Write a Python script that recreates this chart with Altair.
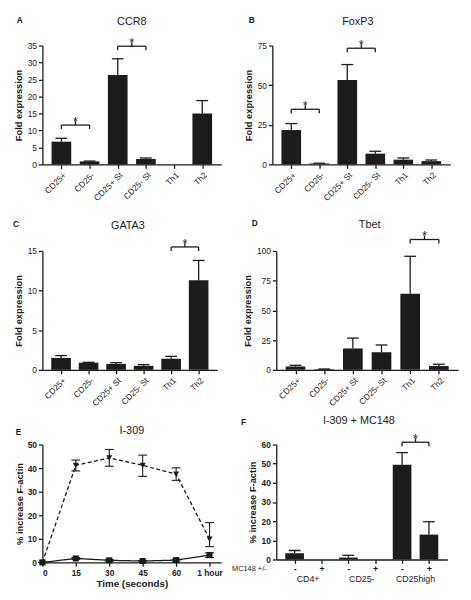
import altair as alt
import pandas as pd

FONT = "Liberation Sans"
INK = "#1a1a1a"
BAR = "#1c1c1c"

# ---------------- data ----------------
cats = ["CD25+", "CD25-", "CD25+ St", "CD25- St", "Th1", "Th2"]

ccr8_mean = [6.7, 0.9, 26.3, 1.6, 0.0, 15.0]
ccr8_err = [1.0, 0.1, 4.8, 0.3, 0.0, 3.8]
ccr8_brackets = [(0, 1, 11.6), (2, 3, 34.8)]

foxp3_mean = [21.7, 0.6, 53.3, 6.8, 3.0, 2.1]
foxp3_err = [4.1, 0.2, 9.7, 1.5, 1.1, 0.7]
foxp3_brackets = [(0, 1, 34.8), (2, 3, 73.3)]

gata3_mean = [1.5, 0.9, 0.75, 0.5, 1.4, 11.3]
gata3_err = [0.3, 0.05, 0.15, 0.15, 0.3, 2.5]
gata3_brackets = [(4, 5, 15.5)]

tbet_mean = [2.8, 0.5, 18.0, 14.8, 64.0, 3.2]
tbet_err = [1.0, 0.2, 8.7, 6.1, 31.5, 1.5]
tbet_brackets = [(4, 5, 109.6)]

time_labels = ["0", "15", "30", "45", "60", "1 hour"]
tri_mean = [0.0, 41.2, 44.3, 41.2, 37.4, 9.9]
tri_lo = [0.0, 38.8, 40.8, 36.5, 34.8, 6.7]
tri_hi = [0.0, 43.4, 47.9, 45.5, 40.1, 16.9]
sq_mean = [0.0, 1.7, 0.9, 0.6, 1.0, 3.1]
sq_lo = [0.0, 1.3, 0.5, 0.3, 0.6, 2.1]
sq_hi = [0.0, 2.1, 1.3, 0.9, 1.4, 4.1]

mc148_signs = ["-", "+", "-", "+", "-", "+"]
mc148_groups = ["CD4+", "CD25-", "CD25high"]
mc148_mean = [3.2, 0.0, 1.0, 0.0, 49.5, 13.0]
mc148_err = [1.5, 0.0, 1.2, 0.0, 6.3, 6.7]
mc148_brackets = [(4, 5, 61.2)]


def label_expr(labels):
    arr = ",".join("'" + l + "'" for l in labels)
    return "[" + arr + "][datum.value]"


ONE = pd.DataFrame({"k": [0]})


def text_at(txt, x, y, size, weight="normal", align="left", baseline="alphabetic"):
    return alt.Chart(ONE).mark_text(
        text=txt, font=FONT, fontSize=size, fontWeight=weight, align=align,
        baseline=baseline, color=INK
    ).encode(x=alt.value(x), y=alt.value(y))


def bracket_layers(brackets, X, Y):
    bdf = pd.DataFrame({
        "a": [b[0] for b in brackets],
        "b": [b[1] for b in brackets],
        "level": [b[2] for b in brackets],
    })
    bdf["m"] = (bdf["a"] + bdf["b"]) / 2.0
    ends = pd.DataFrame({
        "xe": [b[0] for b in brackets] + [b[1] for b in brackets],
        "level": [b[2] for b in brackets] * 2,
    })
    hor = alt.Chart(bdf).mark_rule(color=INK, strokeWidth=1.3).encode(
        x=X("a:Q"), x2="b:Q", y=Y("level:Q"))
    drop = alt.Chart(ends).mark_rule(color=INK, strokeWidth=1.3, y2Offset=4).encode(
        x=X("xe:Q"), y=Y("level:Q"), y2="level:Q")
    up = alt.Chart(bdf).mark_rule(color=INK, strokeWidth=1.3, y2Offset=-4).encode(
        x=X("m:Q"), y=Y("level:Q"), y2="level:Q")
    star = alt.Chart(bdf).mark_text(text="*", font=FONT, fontSize=13, color=INK,
                                    baseline="alphabetic", dy=1).encode(
        x=X("m:Q"), y=Y("level:Q"))
    return [hor, drop, up, star]


def yaxis(title, values, bold=False, pad=4):
    return alt.Axis(values=values, title=title, titleFontSize=9.5, titleFontWeight="bold",
                    titlePadding=pad, labelFontSize=8.5, labelFontWeight="bold" if bold else "normal",
                    tickSize=4, labelPadding=2, domainWidth=1.3, tickWidth=1.3, grid=False)


def make_xy(xs, xa, ys, ya):
    def X(f):
        return alt.X(f, scale=xs, axis=xa)

    def Y(f):
        return alt.Y(f, scale=ys, axis=ya)
    return X, Y


def bar_panel(letter, title, means, errs, brackets, ymax, ystep, w, h,
              letter_xy, title_xy):
    df = pd.DataFrame({"pos": list(range(len(cats))), "mean": means,
                       "upper": [m + e for m, e in zip(means, errs)]})
    xs = alt.Scale(domain=[-0.5, len(cats) - 0.5], nice=False, zero=False)
    ys = alt.Scale(domain=[0, ymax], nice=False)
    xa = alt.Axis(values=list(range(len(cats))), labelExpr=label_expr(cats), title=None,
                  labelAngle=-45, labelFontSize=8.5, tickSize=4, labelPadding=2,
                  labelOverlap=False, domainWidth=1.3, tickWidth=1.3, grid=False)
    ya = yaxis("Fold expression", list(range(0, ymax + 1, ystep)))
    X, Y = make_xy(xs, xa, ys, ya)
    bars = alt.Chart(df).mark_bar(width=20, color=BAR).encode(x=X("pos:Q"), y=Y("mean:Q"))
    errdf = df[df["upper"] > df["mean"]]
    rule = alt.Chart(errdf).mark_rule(color=INK, strokeWidth=1.3).encode(
        x=X("pos:Q"), y=Y("mean:Q"), y2="upper:Q")
    cap = alt.Chart(errdf).mark_tick(orient="horizontal", size=12, thickness=1.3, color=INK,
                                     opacity=1).encode(x=X("pos:Q"), y=Y("upper:Q"))
    layers = [bars, rule, cap] + bracket_layers(brackets, X, Y)
    layers.append(text_at(letter, letter_xy[0], letter_xy[1], 8.5, "bold"))
    layers.append(text_at(title, title_xy[0], title_xy[1], 11, align="center"))
    return alt.layer(*layers).properties(width=w, height=h)


A = bar_panel("A", "CCR8", ccr8_mean, ccr8_err, ccr8_brackets, 35, 5, 182, 121,
              (-26, -22.5), (91, -20.5))
B = bar_panel("B", "FoxP3", foxp3_mean, foxp3_err, foxp3_brackets, 75, 25, 181, 121,
              (-24, -22.5), (87, -21))
C = bar_panel("C", "GATA3", gata3_mean, gata3_err, gata3_brackets, 15, 5, 178, 121,
              (-30, -24), (87, -22.5))
D = bar_panel("D", "Tbet", tbet_mean, tbet_err, tbet_brackets, 100, 25, 185, 121,
              (-25, -25), (95, -23))

# ---------------- E: time course ----------------
n = len(time_labels)
edf = pd.DataFrame({
    "series": ["tri"] * n + ["sq"] * n,
    "pos": list(range(n)) * 2,
    "mean": tri_mean + sq_mean,
    "lo": tri_lo + sq_lo,
    "hi": tri_hi + sq_hi,
})
exs = alt.Scale(domain=[0, 5.35], nice=False, zero=False)
eys = alt.Scale(domain=[0, 50], nice=False)
exa = alt.Axis(values=list(range(n)), labelExpr=label_expr(time_labels), title="Time (seconds)",
               labelAngle=0, labelFontSize=8.5, labelFontWeight="bold", tickSize=4, labelPadding=2,
               labelOverlap=False, titleFontSize=10, titleFontWeight="bold", titlePadding=2,
               domainWidth=1.3, tickWidth=1.3, grid=False)
eya = yaxis("% increase F-actin", list(range(0, 51, 10)), bold=True, pad=3)
EX, EY = make_xy(exs, exa, eys, eya)
e_lines = alt.Chart(edf).mark_line(color=INK, strokeWidth=1.3).encode(
    x=EX("pos:Q"), y=EY("mean:Q"),
    detail="series:N",
    strokeDash=alt.StrokeDash("series:N", scale=alt.Scale(domain=["tri", "sq"], range=[[4, 2.5], [1, 0]]),
                              legend=None))
e_err = alt.Chart(edf).mark_rule(color=INK, strokeWidth=1.1).encode(
    x=EX("pos:Q"), y=EY("lo:Q"), y2="hi:Q")
e_cap_hi = alt.Chart(edf).mark_tick(orient="horizontal", size=9, thickness=1.1, color=INK, opacity=1).encode(
    x=EX("pos:Q"), y=EY("hi:Q"))
e_cap_lo = alt.Chart(edf).mark_tick(orient="horizontal", size=9, thickness=1.1, color=INK, opacity=1).encode(
    x=EX("pos:Q"), y=EY("lo:Q"))
e_pts = alt.Chart(edf).mark_point(filled=True, color=INK, opacity=1, size=38).encode(
    x=EX("pos:Q"), y=EY("mean:Q"),
    shape=alt.Shape("series:N", scale=alt.Scale(domain=["tri", "sq"], range=["triangle-down", "square"]),
                    legend=None))
E = alt.layer(
    e_lines, e_err, e_cap_hi, e_cap_lo, e_pts,
    text_at("E", -27, -10, 8.5, "bold"),
    text_at("I-309", 91, -11, 11, align="center"),
).properties(width=182, height=120)

# ---------------- F: MC148 ----------------
fw, fh = 174, 117
fdf = pd.DataFrame({"pos": list(range(len(mc148_signs))), "mean": mc148_mean,
                    "upper": [m + e for m, e in zip(mc148_mean, mc148_err)]})
fxs = alt.Scale(domain=[-0.5, len(mc148_signs) - 0.5], nice=False, zero=False)
fys = alt.Scale(domain=[0, 60], nice=False)
fxa = alt.Axis(values=list(range(len(mc148_signs))), labelExpr=label_expr(mc148_signs), title=None,
               labelAngle=0, labelFontSize=9, labelFontWeight="bold", tickSize=4, labelPadding=1,
               labelOverlap=False, domainWidth=1.3, tickWidth=1.3, grid=False)
fya = yaxis("% increase F-actin", list(range(0, 61, 10)), bold=True, pad=4)
FX, FY = make_xy(fxs, fxa, fys, fya)
f_bars = alt.Chart(fdf).mark_bar(width=19, color=BAR).encode(x=FX("pos:Q"), y=FY("mean:Q"))
ferr = fdf[fdf["upper"] > fdf["mean"]]
f_rule = alt.Chart(ferr).mark_rule(color=INK, strokeWidth=1.3).encode(
    x=FX("pos:Q"), y=FY("mean:Q"), y2="upper:Q")
f_cap = alt.Chart(ferr).mark_tick(orient="horizontal", size=12, thickness=1.3, color=INK, opacity=1).encode(
    x=FX("pos:Q"), y=FY("upper:Q"))
gdf = pd.DataFrame({"g": mc148_groups, "gx": [2 * i + 0.5 for i in range(len(mc148_groups))]})
f_groups = alt.Chart(gdf).mark_text(font=FONT, fontSize=9, color=INK, baseline="middle").encode(
    x=FX("gx:Q"), y=alt.value(fh + 20), text="g:N")
F = alt.layer(
    f_bars, f_rule, f_cap, *bracket_layers(mc148_brackets, FX, FY), f_groups,
    text_at("MC148 +/-", -45, fh + 10, 7.5, baseline="middle"),
    text_at("F", -36, -20, 8.5, "bold"),
    text_at("I-309 + MC148", 84, -21, 11, align="center"),
).properties(width=fw, height=fh)

row1 = alt.hconcat(A, B, spacing=22)
row2 = alt.hconcat(C, D, spacing=25)
row3 = alt.hconcat(E, F, spacing=9)

top = alt.vconcat(row1, row2, spacing=17)
chart = alt.vconcat(top, row3, spacing=7,
                    padding={"left": 5, "top": 3, "right": 5, "bottom": 5},
                    background="white").configure_view(
    stroke=None
).configure_axis(
    domainColor=INK, tickColor=INK, labelColor=INK, titleColor=INK, grid=False,
    labelFont=FONT, titleFont=FONT
)

chart.save("out.html", embed_options={"renderer": "svg", "actions": False})
